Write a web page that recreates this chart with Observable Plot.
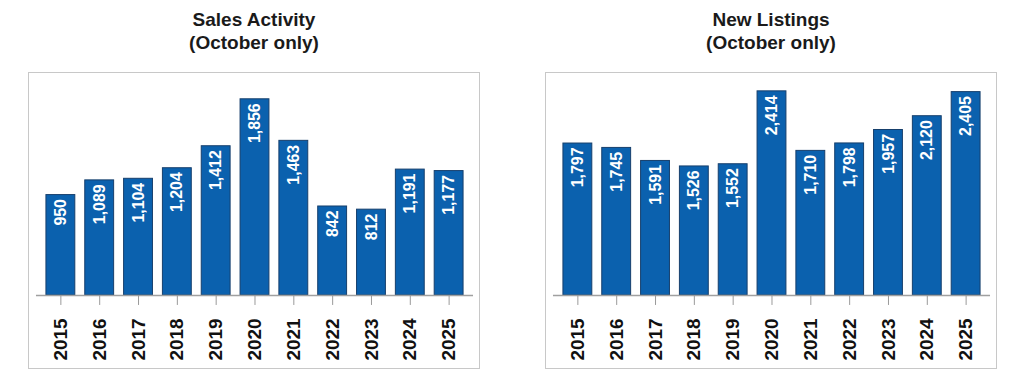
<!DOCTYPE html>
<html>
<head>
<meta charset="utf-8">
<script src="https://cdn.jsdelivr.net/npm/d3@7"></script>
<script src="https://cdn.jsdelivr.net/npm/@observablehq/plot@0.6"></script>
<style>
  html, body { margin: 0; padding: 0; background: #fff; }
  body { width: 1024px; height: 388px; position: relative; overflow: hidden; font-family: "Liberation Sans", Arial, sans-serif; }
  .title { position: absolute; top: 8px; width: 452px; text-align: center; font-size: 19px; font-weight: bold; line-height: 23px; color: #1a1a1a; }
  .box { position: absolute; top: 72px; width: 450px; height: 295px; border: 1px solid #c8c8c8; }
  .box svg { position: absolute; left: 0; top: 0; }
</style>
</head>
<body>
<script>
const years = ["2015","2016","2017","2018","2019","2020","2021","2022","2023","2024","2025"];
const salesActivity = [950, 1089, 1104, 1204, 1412, 1856, 1463, 842, 812, 1191, 1177];
const newListings = [1797, 1745, 1591, 1526, 1552, 2414, 1710, 1798, 1957, 2120, 2405];
const titles = [["Sales Activity", "(October only)"], ["New Listings", "(October only)"]];
const yMax = [2100, 2625];

const panels = [
  {left: 28, values: salesActivity, title: titles[0], ymax: yMax[0]},
  {left: 545, values: newListings, title: titles[1], ymax: yMax[1]}
];

const fmt = d3.format(",");

for (const p of panels) {
  const data = years.map((y, i) => ({year: y, value: p.values[i]}));
  const t = document.createElement("div");
  t.className = "title";
  t.style.left = p.left + "px";
  t.innerHTML = p.title[0] + "<br>" + p.title[1];
  document.body.appendChild(t);

  const box = document.createElement("div");
  box.className = "box";
  box.style.left = p.left + "px";
  document.body.appendChild(box);

  const chart = Plot.plot({
    width: 452,
    height: 297,
    marginLeft: 7,
    marginRight: 6,
    marginTop: 0,
    marginBottom: 74,
    style: {fontFamily: "'Liberation Sans', Arial, sans-serif", background: "transparent"},
    x: {domain: years, padding: 0.25, label: null},
    y: {domain: [0, p.ymax], axis: null},
    marks: [
      Plot.barY(data, {x: "year", y: "value", fill: "#0b61ae", stroke: "#163f6c", strokeWidth: 1}),
      Plot.ruleY([0], {stroke: "#a0a0a0", strokeWidth: 1.5}),
      Plot.axisX({tickSize: 10, tickPadding: 13, tickRotate: -90, fontSize: 19, fontWeight: "bold", stroke: "#999", fill: "#111", label: null}),
      Plot.text(data, {x: "year", y: "value", text: d => fmt(d.value), rotate: -90, textAnchor: "end", dy: 4, fill: "white", fontSize: 16, fontWeight: "bold"})
    ]
  });
  box.appendChild(chart);
}
</script>
</body>
</html>
